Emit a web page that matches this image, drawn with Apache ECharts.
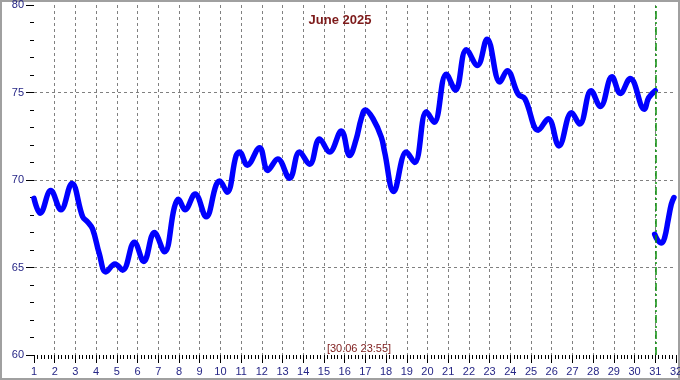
<!DOCTYPE html>
<html>
<head>
<meta charset="utf-8">
<script src="https://cdn.jsdelivr.net/npm/echarts@6/dist/echarts.min.js"></script>
<style>
html,body{margin:0;padding:0;background:#fff;}
#c{width:680px;height:380px;}
</style>
</head>
<body>
<div id="c"></div>
<script>
var titleText = 'June 2025';
var yAxisName = '° F';
var stampText = '[30.06 23:55]';
var xTicks = [1,2,3,4,5,6,7,8,9,10,11,12,13,14,15,16,17,18,19,20,21,22,23,24,25,26,27,28,29,30,31,32];
var yTicks = [60,65,70,75,80];
var markerDay = 31;

var days1 = [1.00,1.30,1.81,2.30,2.83,3.35,3.59,3.83,4.15,4.47,4.91,5.28,5.85,6.30,6.81,7.30,7.78,7.97,8.29,8.78,9.31,9.79,9.96,10.32,10.76,10.92,11.30,11.89,12.29,12.77,13.34,13.82,14.31,14.79,15.27,15.84,16.24,16.55,16.80,17.00,17.37,17.77,17.93,18.37,18.98,19.38,19.95,20.32,20.91,21.35,21.88,22.41,22.88,23.50,23.85,24.38,24.70,25.35,25.83,26.35,26.96,27.35,27.90,28.35,28.91,29.31,29.79,30.47,30.68,31.00];
var temps1 = [68.95,68.1,69.4,68.3,69.8,67.9,67.6,67.2,65.8,64.75,65.2,64.85,66.45,65.35,67.0,65.9,68.45,68.9,68.3,69.2,67.9,69.7,69.95,69.3,71.4,71.6,70.85,71.85,70.55,71.2,70.1,71.6,70.9,72.35,71.6,72.8,71.4,72.3,73.5,74.0,73.5,72.45,71.6,69.35,71.6,71.0,73.9,73.3,76.05,75.15,77.45,76.55,78.05,75.6,76.25,74.9,74.65,72.85,73.5,71.95,73.85,73.2,75.1,74.2,75.9,74.95,75.8,74.05,74.7,75.1];
var days2 = [30.97,31.12,31.30,31.45,31.62,31.77,31.90];
var temps2 = [66.9,66.55,66.4,66.7,67.7,68.6,69.0];

function pairs(xs, ys){ var out=[]; for(var i=0;i<xs.length;i++){ out.push([xs[i], ys[i]]); } return out; }

var labelColor = '#262686';
var darkRed = '#7d1a1a';
var font = "'Liberation Sans', Arial, sans-serif";

var chart = echarts.init(document.getElementById('c'), null, {renderer:'canvas'});
var lineStyle = {color:'#0000ff', width:5.5, cap:'round', join:'round'};
chart.setOption({
  animation:false,
  backgroundColor:'#ffffff',
  title:{text:titleText, left:'center', top:9, textStyle:{color:darkRed, fontSize:13, fontWeight:'bold', fontFamily:font}},
  grid:{left:34, right:4, top:5, bottom:25, containLabel:false, outerBoundsMode:'none'},
  xAxis:{
    type:'value', min:xTicks[0], max:xTicks[xTicks.length-1], interval:1,
    axisLine:{show:false},
    axisTick:{show:true, length:8, lineStyle:{color:'#000', width:1}},
    minorTick:{show:true, splitNumber:6, length:4, lineStyle:{color:'#000', width:1}},
    axisLabel:{color:labelColor, fontSize:11, fontFamily:font, margin:11},
    splitLine:{show:true, showMinLine:false, showMaxLine:false, lineStyle:{color:'#808080', type:[3,3], width:1}}
  },
  yAxis:{
    type:'value', min:yTicks[0], max:yTicks[yTicks.length-1], interval:5,
    name:yAxisName, nameLocation:'middle', nameRotate:90, nameGap:24,
    nameTextStyle:{color:darkRed, fontSize:11, fontFamily:font},
    axisLine:{show:false},
    axisTick:{show:true, length:8, lineStyle:{color:'#000', width:1}},
    minorTick:{show:true, splitNumber:5, length:4, lineStyle:{color:'#000', width:1}},
    axisLabel:{color:labelColor, fontSize:11, fontFamily:font, margin:10},
    splitLine:{show:true, showMinLine:false, showMaxLine:false, lineStyle:{color:'#808080', type:[3,3], width:1}}
  },
  series:[
    {type:'line', data:pairs(days1,temps1), smooth:0.4, showSymbol:false, lineStyle:lineStyle, z:3,
     markLine:{silent:true, symbol:['none','none'], label:{show:false}, emphasis:{disabled:true}, lineStyle:{color:'#0a8f0a', type:[8,3,2,3], width:1.5}, data:[{xAxis:markerDay, lineStyle:{color:'#0a8f0a'}}]}},
    {type:'line', data:pairs(days2,temps2), smooth:0.4, showSymbol:false, lineStyle:lineStyle, z:3}
  ],
  graphic:[
    {type:'rect', shape:{x:1, y:1, width:678, height:378}, style:{fill:'none', stroke:'#a0a0a0', lineWidth:2}, silent:true},
    {type:'text', x:359, y:349, style:{text:stampText, fill:darkRed, font:'11px ' + font, textAlign:'center', textVerticalAlign:'middle'}}
  ]
});
</script>
</body>
</html>
